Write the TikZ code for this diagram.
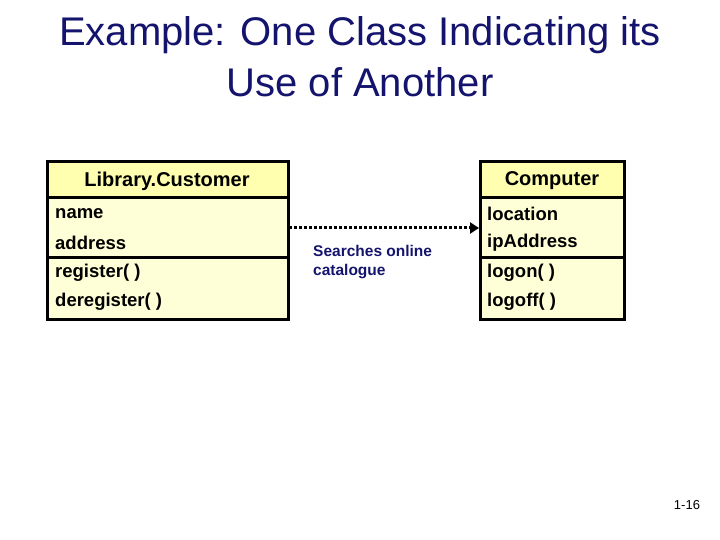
\documentclass[tikz,border=0pt]{standalone}
\usepackage{fontspec}
\setmainfont{Liberation Sans}
\usetikzlibrary{arrows.meta}
\definecolor{navy}{RGB}{20,20,110}
\definecolor{hdr}{RGB}{255,255,175}
\definecolor{bdy}{RGB}{255,255,215}
\tikzset{x=1pt,y=-1pt,
 boxline/.style={line width=3pt},
 attr/.style={anchor=west,font=\bfseries\fontsize{18.5}{20}\selectfont,inner sep=0pt},
 ttl/.style={font=\bfseries\fontsize{20}{22}\selectfont,inner sep=0pt}}
\begin{document}
\begin{tikzpicture}
\useasboundingbox (0,0) rectangle (720,540);
\node[navy,font=\fontsize{40}{44}\selectfont] (t1) at (360,35) {Example: One Class Indicating its};
\node[navy,font=\fontsize{40}{44}\selectfont] (t2) at (360,82) {Use of Another};
% left class
\fill[hdr] (47,162) rectangle (288,198);
\fill[bdy] (47,198) rectangle (288,319);
\draw[boxline] (47,162) rectangle (288,319);
\draw[boxline] (47,198) -- (288,198);
\draw[boxline] (47,257) -- (288,257);
\node[ttl] (lc) at (167,181) {Library.Customer};
\node[attr] (l1) at (55,214) {name};
\node[attr] (l2) at (55,243) {address};
\node[attr] (l3) at (55,273) {register( )};
\node[attr] (l4) at (55,302) {deregister( )};
% right class
\fill[hdr] (480,162) rectangle (624,198);
\fill[bdy] (480,198) rectangle (624,319);
\draw[boxline] (480,162) rectangle (624,319);
\draw[boxline] (480,198) -- (624,198);
\draw[boxline] (480,257) -- (624,257);
\node[ttl] (rc) at (552,181) {Computer};
\node[attr] (r1) at (487,214) {location};
\node[attr] (r2) at (487,243) {ipAddress};
\node[attr] (r3) at (487,273) {logon( )};
\node[attr] (r4) at (487,302) {logoff( )};
\coordinate (a) at (289,228);
\coordinate (b) at (479,228);
\draw[line width=3pt,dotted,-{Triangle[length=9pt,width=11pt]}] (a) -- (b);
\node[navy,anchor=north west,align=left,inner sep=0pt,font=\bfseries\fontsize{15.5}{19}\selectfont] (lbl) at (313,245) {Searches online\\ catalogue};
\node[font=\fontsize{13}{15}\selectfont] (pg) at (687,505) {1-16};
\end{tikzpicture}
\end{document}
